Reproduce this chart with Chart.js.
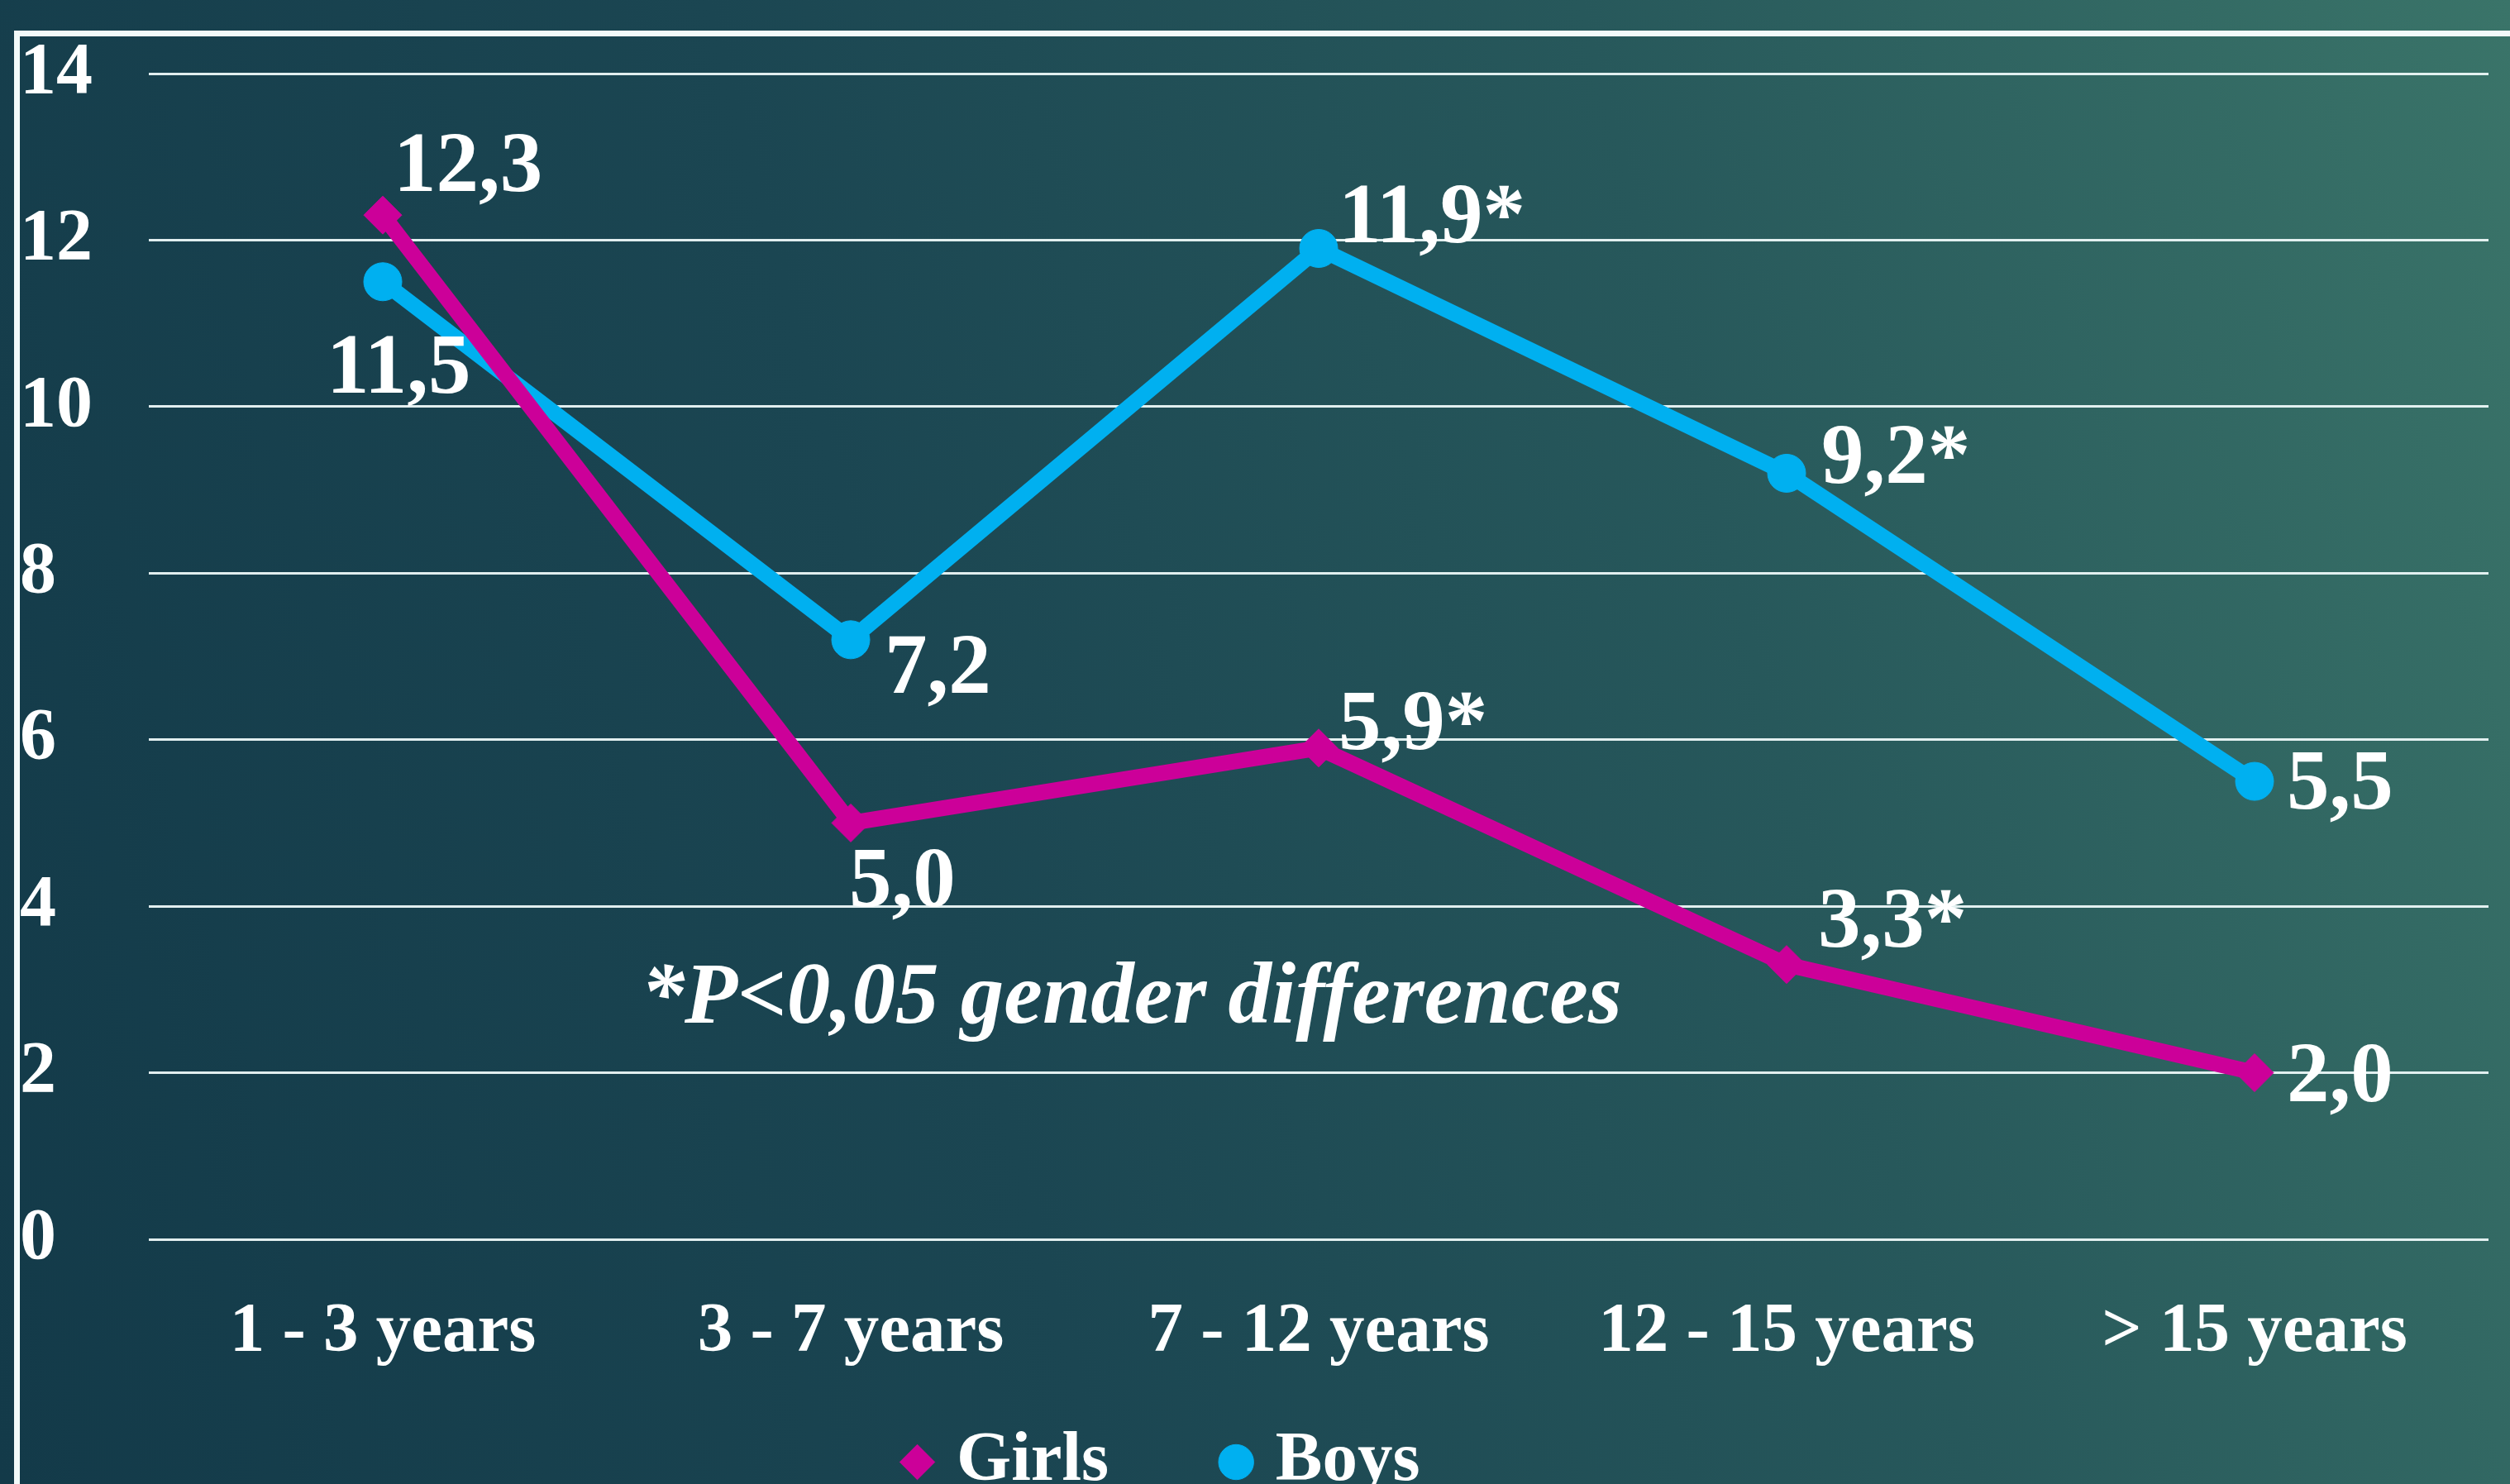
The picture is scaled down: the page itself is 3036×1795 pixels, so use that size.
<!DOCTYPE html>
<html>
<head>
<meta charset="utf-8">
<script src="https://cdn.jsdelivr.net/npm/chart.js@4.4.1/dist/chart.umd.min.js"></script>
<style>
  html, body { margin: 0; padding: 0; width: 3036px; height: 1795px; overflow: hidden; }
  body { background: linear-gradient(75deg, #133a49 0%, #1b4652 38%, #27585b 68%, #3a7469 100%); position: relative; }
  .frame { position: absolute; left: 17px; top: 37px; right: -20px; bottom: -20px; border: 7px solid #f2fafa; }
  .wrap { position: absolute; left: 0; top: 0; width: 3036px; height: 1821px; }
</style>
</head>
<body>
<div class="frame"></div>
<div class="wrap"><canvas id="chart"></canvas></div>
<script>
'use strict';

const categories = ['1 - 3 years', '3 - 7 years', '7 - 12 years', '12 - 15 years', '> 15 years'];
const girls = [12.3, 5.0, 5.9, 3.3, 2.0];
const boys = [11.5, 7.2, 11.9, 9.2, 5.5];
const significant = [false, false, true, true, false];
const yTicks = [0, 2, 4, 6, 8, 10, 12, 14];
const note = '*P<0,05 gender differences';

const SERIF = "'Liberation Serif', 'Times New Roman', serif";
const PINK = '#cc0099';
const BLUE = '#00b0f0';

// label placement relative to each point: [dx, dy] of the text's left/middle
const girlsLabelOffsets = [[13, -56], [-2, 74], [24, -25], [38, -48], [39, 8]];
const boysLabelOffsets = [[-68, 108], [41, 38], [24, -34], [42, -15], [39, 6]];

const fmt = (v, i) => v.toFixed(1).replace('.', ',') + (significant[i] ? '*' : '');

const valueLabels = {
  id: 'valueLabels',
  afterLayout(chart) {
    // legend sits a little left of centre in the original
    chart.legend.left -= 106;
    chart.legend.right -= 106;
    // give the category labels room below the axis (they get clipped to the scale box)
    const xs = chart.scales.x;
    xs.bottom = xs.top + 200;
    xs.height = 200;
  },
  afterDatasetsDraw(chart) {
    const ctx = chart.ctx;
    ctx.save();
    ctx.fillStyle = '#ffffff';
    ctx.font = 'bold 103px ' + SERIF;
    ctx.textAlign = 'left';
    ctx.textBaseline = 'middle';
    chart.data.datasets.forEach((ds, i) => {
      const meta = chart.getDatasetMeta(i);
      meta.data.forEach((pt, j) => {
        const [dx, dy] = ds.labelOffsets[j];
        ctx.fillText(fmt(ds.data[j], j), pt.x + dx, pt.y + dy);
      });
    });
    const xs = chart.scales.x, ys = chart.scales.y;
    ctx.font = 'italic bold 105px ' + SERIF;
    ctx.textAlign = 'center';
    ctx.textBaseline = 'alphabetic';
    ctx.fillText(note, xs.getPixelForValue(1.6), ys.getPixelForValue(2.6));
    ctx.restore();
  },
};

Chart.defaults.font.family = SERIF;
Chart.defaults.color = '#ffffff';

new Chart(document.getElementById('chart'), {
  type: 'line',
  data: {
    labels: categories,
    datasets: [
      {
        label: 'Girls',
        data: girls,
        labelOffsets: girlsLabelOffsets,
        borderColor: PINK,
        backgroundColor: PINK,
        pointBackgroundColor: PINK,
        pointBorderColor: PINK,
        pointStyle: 'rectRot',
        pointRadius: 23,
        pointBorderWidth: 1,
        borderWidth: 19,
        tension: 0,
      },
      {
        label: 'Boys',
        data: boys,
        labelOffsets: boysLabelOffsets,
        borderColor: BLUE,
        backgroundColor: BLUE,
        pointBackgroundColor: BLUE,
        pointBorderColor: BLUE,
        pointStyle: 'circle',
        pointRadius: 23,
        pointBorderWidth: 1,
        borderWidth: 19,
        tension: 0,
      },
    ],
  },
  options: {
    responsive: true,
    maintainAspectRatio: false,
    animation: false,
    layout: { padding: { top: 89, left: 24, right: 26, bottom: 0 } },
    plugins: {
      tooltip: { enabled: false },
      legend: {
        position: 'bottom',
        labels: {
          usePointStyle: true,
          boxWidth: 10,
          boxHeight: 30,
          padding: 149,
          color: '#ffffff',
          font: { size: 85, weight: 'bold', family: SERIF },
        },
      },
    },
    scales: {
      x: {
        offset: true,
        grid: { display: false, drawTicks: false },
        border: { display: false },
        ticks: {
          color: '#ffffff',
          padding: 62,
          maxRotation: 0,
          font: { size: 85, weight: 'bold', family: SERIF },
        },
        afterFit: (s) => { s.height = 78; },
      },
      y: {
        min: 0,
        max: 14,
        afterBuildTicks: (s) => { s.ticks = yTicks.map((v) => ({ value: v })); },
        grid: { color: 'rgba(236,248,248,0.95)', lineWidth: 3, drawTicks: false },
        border: { display: false },
        ticks: {
          color: '#ffffff',
          crossAlign: 'far',
          font: { size: 88, weight: 'bold', family: SERIF },
        },
        afterFit: (s) => { s.width = 156; },
      },
    },
  },
  plugins: [valueLabels],
});
</script>
</body>
</html>
